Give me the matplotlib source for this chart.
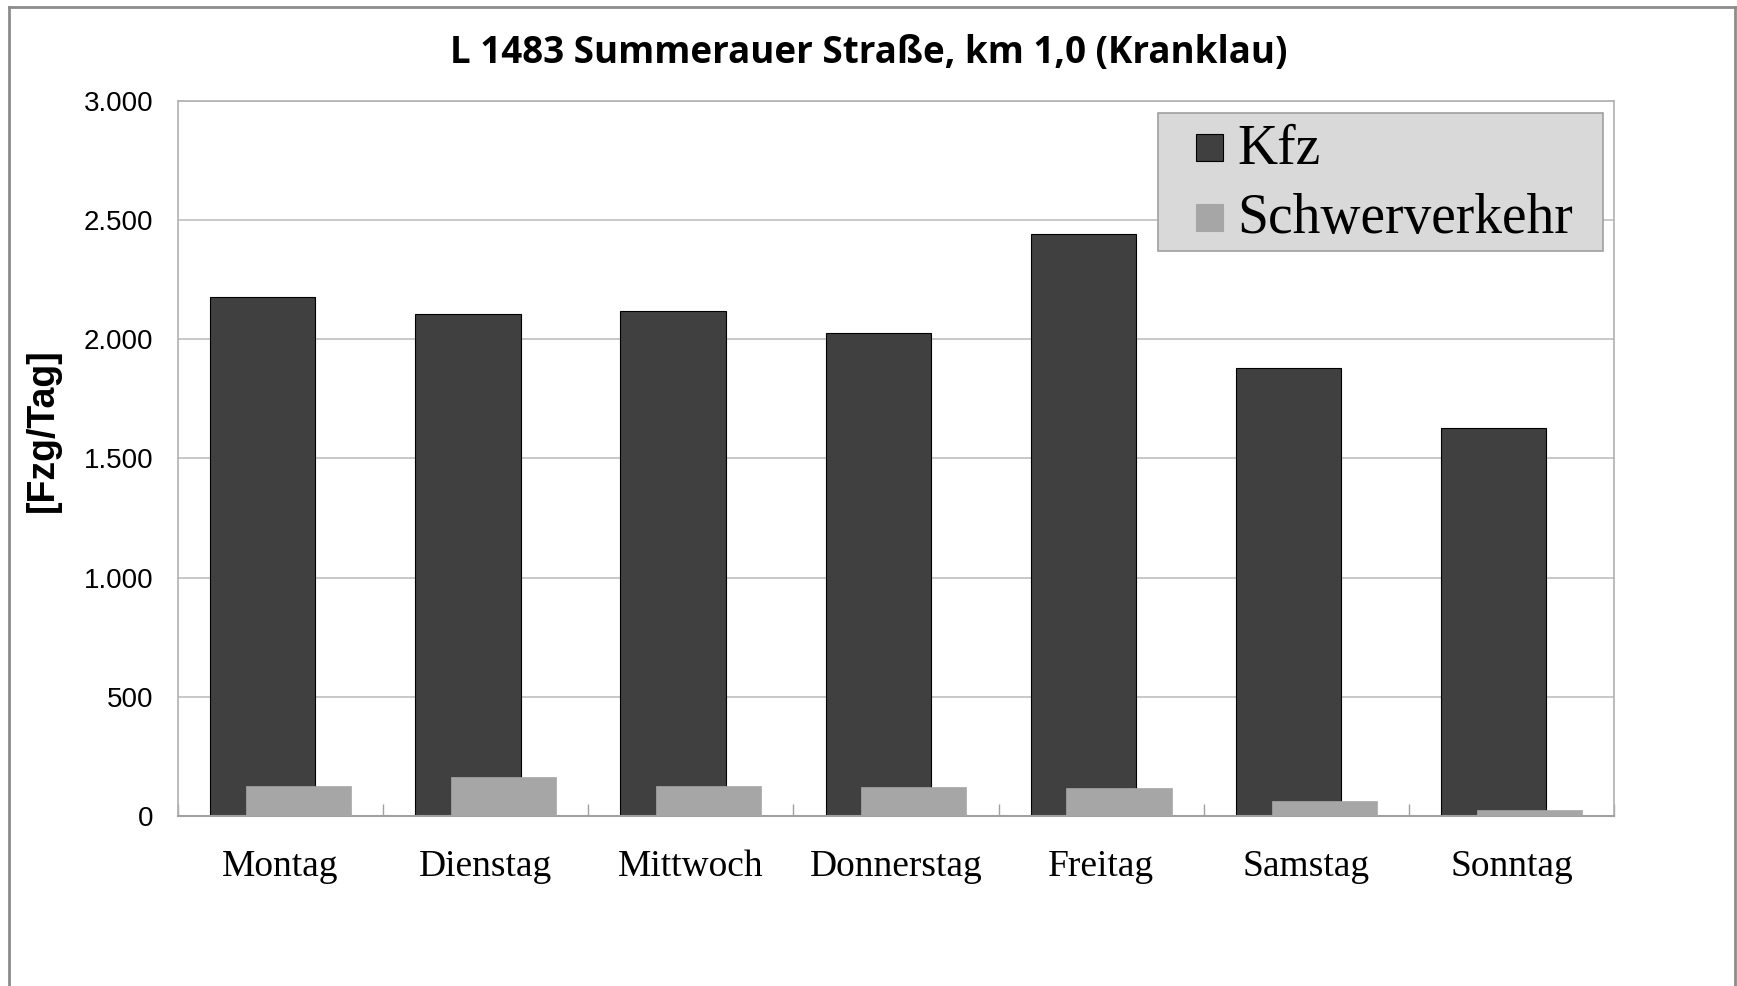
import matplotlib
matplotlib.use("Agg")
import matplotlib.pyplot as plt
import numpy as np
from matplotlib.lines import Line2D
from matplotlib.patches import Rectangle

# Werte pro Wochentag
tage = ["Montag", "Dienstag", "Mittwoch", "Donnerstag", "Freitag", "Samstag", "Sonntag"]
kfz = [2177, 2108, 2118, 2025, 2443, 1881, 1630]
schwerverkehr = [127, 164, 128, 123, 116, 64, 24]
reihen = ["Kfz", "Schwerverkehr"]
y_ticks = [0, 500, 1000, 1500, 2000, 2500, 3000]
y_ticklabels = ["0", "500", "1.000", "1.500", "2.000", "2.500", "3.000"]

DARK = "#404040"
LIGHT = "#a6a6a6"
GRID = "#bfbfbf"

W, H = 1737, 986
fig = plt.figure(figsize=(W / 100, H / 100), dpi=100)
ax = fig.add_axes([0.1025, 0.1724, 0.8267, 0.7252])


def fx(px):
    return px / W


def fy(py):
    return 1 - py / H


x = np.arange(len(tage))
w = 0.513
off = 0.087
ax.bar(x - off, kfz, w, color=DARK, edgecolor="black", linewidth=0.8, zorder=2)
ax.bar(x + off, schwerverkehr, w, color=LIGHT, edgecolor=LIGHT, linewidth=0.5, zorder=3)

ax.set_xlim(-0.5, len(tage) - 0.5)
ax.set_ylim(0, 3000)
ax.set_yticks(y_ticks)
ax.set_yticklabels(y_ticklabels, fontsize=20, family="Liberation Sans")
ax.tick_params(axis="y", length=0, pad=18)
ax.yaxis.grid(True, color=GRID, linewidth=1.2, zorder=0)
ax.set_axisbelow(True)

# Kategorien: Beschriftung mittig, Striche an den Grenzen
ax.set_xticks(x)
ax.set_xticklabels(tage, fontsize=27, family="Liberation Serif")
ax.tick_params(axis="x", length=0, pad=24)
ax.set_xticks(np.arange(len(tage) + 1) - 0.5, minor=True)
ax.tick_params(axis="x", which="minor", direction="in", length=8.5, color="#a0a0a0", width=1)

for side in ("left", "right", "top"):
    ax.spines[side].set_color("#b0b0b0")
    ax.spines[side].set_linewidth(1.2)
ax.spines["bottom"].set_color("#a0a0a0")
ax.spines["bottom"].set_linewidth(1.5)

fig.text(fx(43), fy(430), "[Fzg/Tag]", rotation=90, ha="center", va="center",
         fontsize=27, fontweight="bold", family="Liberation Sans")

fig.text(0.5, fy(63), "L 1483 Summerauer Straße, km 1,0 (Kranklau)", ha="center",
         va="baseline", fontsize=26.5, fontweight="bold", family="Open Sans")

# Legende von Hand (Kasten, Farbfelder, Text)
fig.add_artist(Rectangle((fx(1158), fy(251)), fx(1603) - fx(1158), fy(113) - fy(251),
                         transform=fig.transFigure, facecolor="#d9d9d9",
                         edgecolor="#a0a0a0", linewidth=1.2, zorder=5))
marker_top = [134, 204]
baselines = [164, 233]
farben = [(DARK, "black"), (LIGHT, LIGHT)]
for name, (fc, ec), mt, bl in zip(reihen, farben, marker_top, baselines):
    fig.add_artist(Rectangle((fx(1196), fy(mt + 27)), fx(27), fy(mt) - fy(mt + 27),
                             transform=fig.transFigure, facecolor=fc, edgecolor=ec,
                             linewidth=0.8, zorder=6))
    fig.text(fx(1237), fy(bl), name, ha="left", va="baseline", fontsize=40,
             family="Liberation Serif", zorder=6)

# Außenrahmen (links, oben, rechts)
bx0, bx1, by1 = fx(8.5), fx(1734.5), fy(7)
for xs, ys in (([bx0, bx0], [0, by1]), ([bx0, bx1], [by1, by1]), ([bx1, bx1], [by1, 0])):
    fig.add_artist(Line2D(xs, ys, transform=fig.transFigure, color="#8c8c8c", linewidth=2))

fig.savefig("out.png", dpi=100)
